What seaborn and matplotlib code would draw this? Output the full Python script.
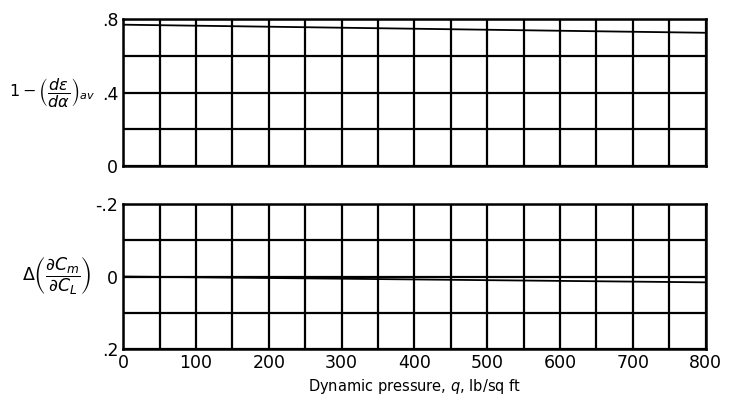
import numpy as np
import pandas as pd
import seaborn as sns
import matplotlib.pyplot as plt
from matplotlib.ticker import MultipleLocator, FixedLocator

# values
q = [0, 200, 400, 600, 800]
downwash = [0.769, 0.758, 0.747, 0.736, 0.725]
dcm_dcl = [0.0, 0.004, 0.008, 0.012, 0.016]

x_ticks = [0, 100, 200, 300, 400, 500, 600, 700, 800]
x_labels = ['0', '100', '200', '300', '400', '500', '600', '700', '800']
top_ticks = [0, 0.4, 0.8]
top_labels = ['0', '.4', '.8']
bot_ticks = [-0.2, 0, 0.2]
bot_labels = ['-.2', '0', '.2']

sns.set_style('white')
plt.rcParams['font.family'] = ['DejaVu Sans']
plt.rcParams['mathtext.fontset'] = 'dejavusans'
plt.rcParams['text.color'] = 'black'
plt.rcParams['axes.labelcolor'] = 'black'

df = pd.DataFrame({'q': q, 'downwash': downwash, 'dcm': dcm_dcl})

fig = plt.figure(figsize=(7.29, 4.04), dpi=100)
ax1 = fig.add_axes([0.169, 0.589, 0.799, 0.364])
ax2 = fig.add_axes([0.169, 0.136, 0.799, 0.359])

for ax in (ax1, ax2):
    ax.set_xlim(0, 800)
    ax.xaxis.set_major_locator(FixedLocator(x_ticks))
    ax.xaxis.set_minor_locator(MultipleLocator(50))
    ax.grid(which='both', color='black', linewidth=1.6)
    ax.tick_params(which='both', length=0, labelsize=12.5, colors='black')
    for s in ax.spines.values():
        s.set_color('black')
        s.set_linewidth(1.8)

sns.lineplot(data=df, x='q', y='downwash', ax=ax1, color='black', linewidth=1.3)
ax1.set_ylim(0, 0.8)
ax1.yaxis.set_major_locator(FixedLocator(top_ticks))
ax1.yaxis.set_minor_locator(MultipleLocator(0.2))
ax1.set_yticklabels(top_labels)
ax1.set_xticklabels([])
ax1.set_xlabel('')
ax1.set_ylabel(r'$1-\left(\dfrac{d\epsilon}{d\alpha}\right)_{av}$', rotation=0,
               fontsize=11.5, ha='right', va='center')
ax1.yaxis.set_label_coords(-0.048, 0.5)

sns.lineplot(data=df, x='q', y='dcm', ax=ax2, color='black', linewidth=1.3)
ax2.set_ylim(0.2, -0.2)
ax2.yaxis.set_major_locator(FixedLocator(bot_ticks))
ax2.yaxis.set_minor_locator(MultipleLocator(0.1))
ax2.set_yticklabels(bot_labels)
ax2.set_xticklabels(x_labels)
ax2.set_xlabel('Dynamic pressure, $q$, lb/sq ft', fontsize=10.5)
ax2.set_ylabel(r'$\Delta\left(\dfrac{\partial C_m}{\partial C_L}\right)$', rotation=0,
               fontsize=12.5, labelpad=28, va='center')

fig.savefig('out.png', dpi=100)
